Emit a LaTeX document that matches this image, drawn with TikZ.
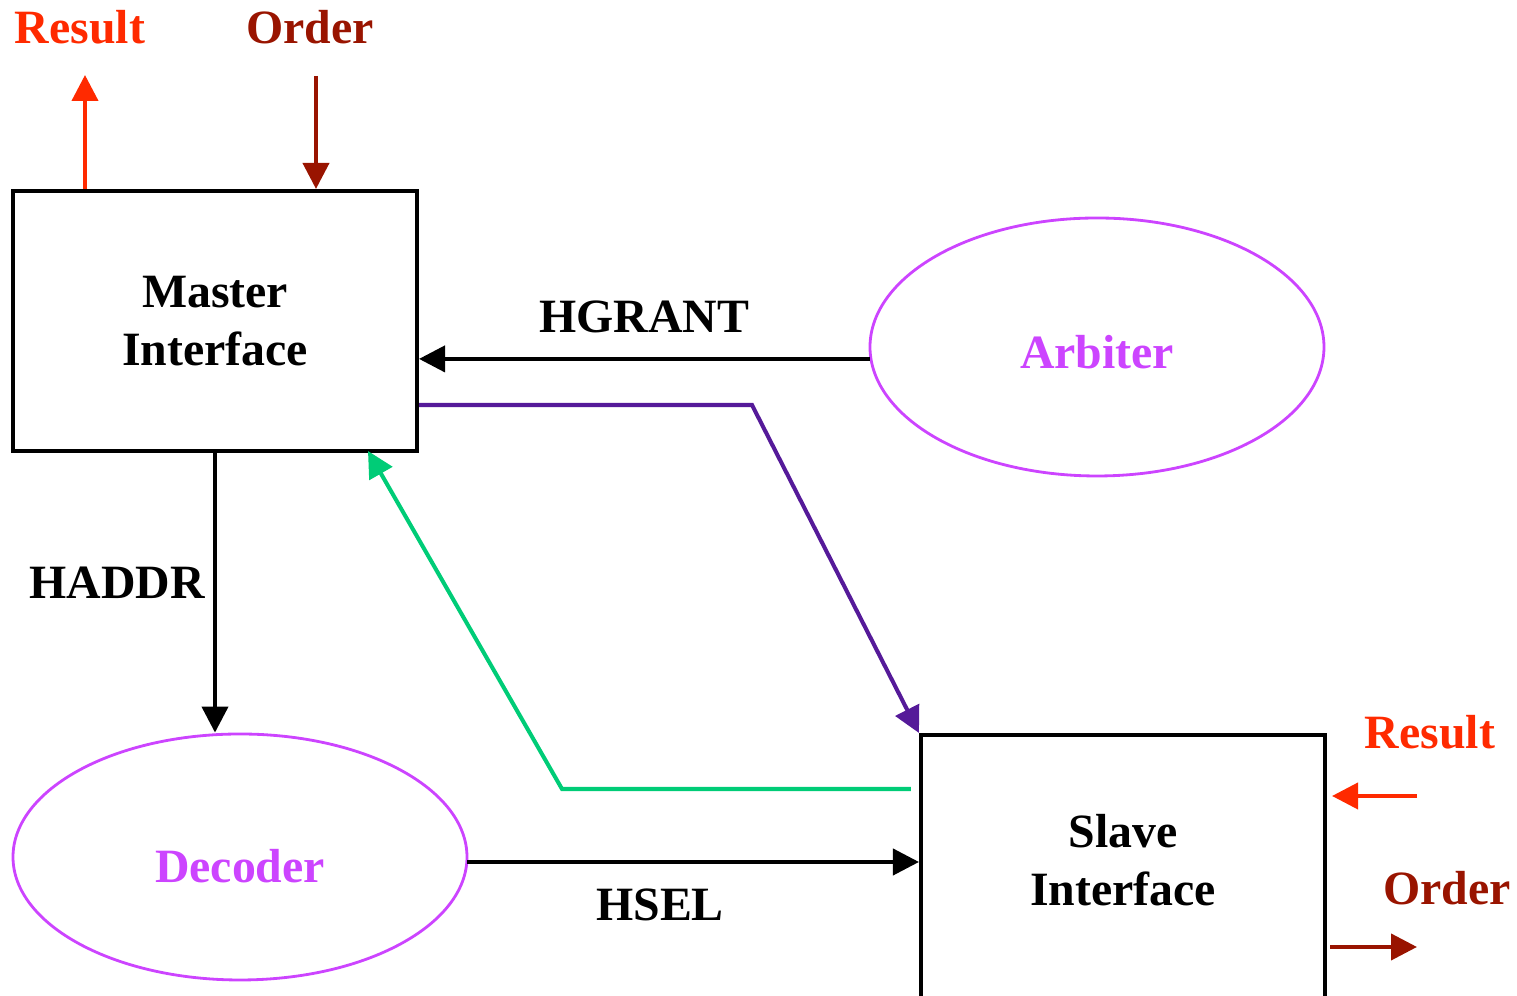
\documentclass[tikz,border=0pt]{standalone}
\usepackage{fontspec}
\setmainfont{Liberation Serif}
\usetikzlibrary{arrows.meta,shapes.geometric}

\definecolor{resred}{HTML}{FF2A00}
\definecolor{orderred}{HTML}{991400}
\definecolor{arbpurple}{HTML}{CC44FF}
\definecolor{busviolet}{HTML}{551A99}
\definecolor{respgreen}{HTML}{00CC77}

\begin{document}
\begin{tikzpicture}[>={Triangle[length=0.26cm,width=0.26cm]},line width=1.15pt,
    every node/.style={font=\fontsize{13.6}{16.5}\selectfont\bfseries},
    block/.style={draw,rectangle,minimum width=4.04cm,align=center},
    unit/.style={draw=arbpurple,ellipse,line width=0.8pt,text=arbpurple,minimum width=4.54cm},
    sig/.style={->}]
    \clip (0,0) rectangle (15.17,9.96);
    \useasboundingbox (0,0) rectangle (15.17,9.96);

    % blocks
    \node[block,minimum height=2.6cm] (master) at (2.15,6.75) {Master\\Interface};
    \node[block,minimum height=3.2cm,anchor=north] (slave) at (11.23,2.63) {};
    \node[align=center] (slavetxt) at (11.23,1.36) {Slave\\Interface};
    \node[unit,minimum height=2.58cm,text height=0.43cm] (arbiter) at (10.97,6.49) {Arbiter};
    \node[unit,minimum height=2.46cm,text height=0.51cm] (decoder) at (2.40,1.39) {Decoder};

    % free ends of the outside signals
    \coordinate (resup) at (0.85,9.21);
    \coordinate (orddown) at (3.16,9.20);
    \coordinate (resin) at (14.17,2.00);
    \coordinate (ordout) at (14.17,0.49);
    \coordinate (hbend) at (7.52,5.91);
    \coordinate (gbend) at (5.62,2.07);
    \coordinate (gend) at (3.68,5.45);
    \coordinate (selout) at (4.67,1.34);

    \node[text=resred] (res1) at (0.80,9.69) {Result};
    \node[text=orderred] (ord1) at (3.10,9.69) {Order};
    \node[text=resred] (res2) at (14.30,2.64) {Result};
    \node[text=orderred] (ord2) at (14.47,1.08) {Order};

    \draw[sig,resred] (master.north -| resup) -- (resup);
    \draw[sig,orderred] (orddown) -- (master.north -| orddown);
    \draw[sig,resred,shorten >=0.05cm] (resin) -- (slave.east |- resin);
    \draw[sig,orderred,shorten <=0.03cm] (slave.east |- ordout) -- (ordout);

    % bus signals
    \draw[sig] (arbiter.183) -- node[above=0.12cm] (hgrant) {HGRANT} (master.east |- arbiter.183);
    \draw[sig,busviolet] (master.east |- hbend) -- (hbend) -- (slave.north west);
    \draw[sig,respgreen,shorten <=0.08cm] (slave.west |- gbend) -- (gbend) -- (gend);
    \draw[sig] (master.south) -- (master.south |- decoder.north);
    \node (haddr) at (1.17,4.13) {HADDR};
    \draw[sig] (selout) -- (selout -| slave.west);
    \node (hsel) at (6.60,0.91) {HSEL};

\end{tikzpicture}
\end{document}
